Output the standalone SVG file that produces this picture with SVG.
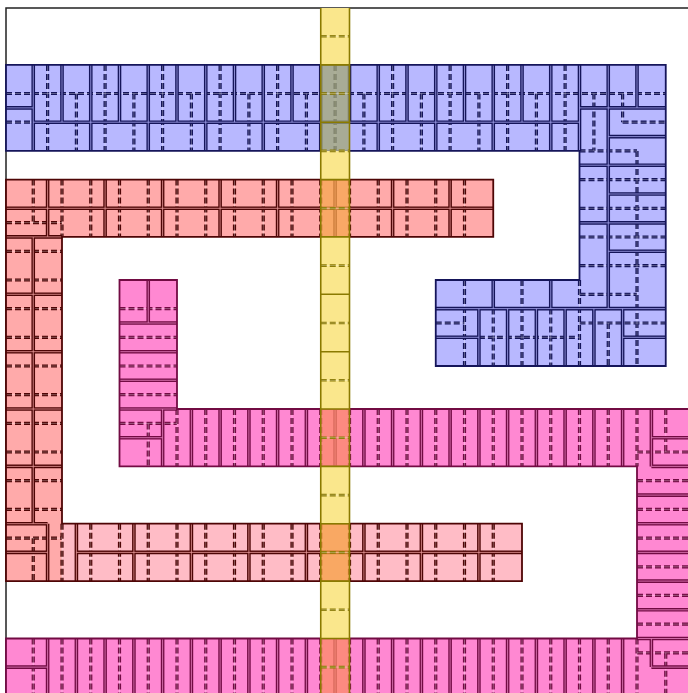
<svg xmlns="http://www.w3.org/2000/svg" width="688" height="693" viewBox="0 0 688 693">
<style>
.s{fill:none;stroke-width:3.6}
.c{fill:none;stroke-width:0.8}
.d{fill:none;stroke-width:3.2;stroke-dasharray:6 3}
.dc{fill:none;stroke:#ffffff;stroke-opacity:.4;stroke-width:.8}
.o{fill:none;stroke-width:1.8}
.B{stroke:#15155a}.Bc{stroke:#a8a8f0}
.R{stroke:#4e0505}.Rc{stroke:#e89a9a}
.P{stroke:#720b43}.Pc{stroke:#e884c0}
.yf{fill:#fae78c}
.yc{fill:none;stroke:#8a7a00;stroke-width:1.6}
.yd{fill:none;stroke:#8a7a00;stroke-width:2.6;stroke-dasharray:6 3}
.ov{opacity:.75}
</style>
<defs>
<path id="bs" d="M62,64.9V122.2M119.5,64.9V122.2M177,64.9V122.2M234.5,64.9V122.2M292,64.9V122.2M349.5,64.9V122.2M407,64.9V122.2M464.5,64.9V122.2M522,64.9V122.2M33.25,64.9V150.9M90.75,64.9V150.9M148.25,64.9V150.9M205.75,64.9V150.9M263.25,64.9V150.9M320.75,64.9V150.9M378.25,64.9V150.9M435.75,64.9V150.9M493.25,64.9V150.9M550.75,64.9V150.9M579.5,64.9V150.9M33.25,122.2H579.5M6,107.9H33.25M608.25,64.9V308.6M637,64.9V107.9M579.5,107.9H665.75M608.25,136.6H665.75M579.5,165.2H665.75M608.25,194H665.75M579.5,222.9H665.75M608.25,251.3H665.75M435.75,308.6H665.75M493.25,280V308.6M550.75,280V308.6M478.9,308.6V366M507.6,308.6V366M536.4,308.6V366M565.1,308.6V366M593.9,308.6V366M622.6,308.6V366M435.75,337.3H478.9M622.6,337.3H665.75"/>
<path id="bd" d="M6,93.5H665.75M47.6,64.9V150.9M105.1,64.9V150.9M162.6,64.9V150.9M220.1,64.9V150.9M277.6,64.9V150.9M335.1,64.9V150.9M392.6,64.9V150.9M450.1,64.9V150.9M507.6,64.9V150.9M565.1,64.9V150.9M76.4,93.5V150.9M133.9,93.5V150.9M191.4,93.5V150.9M248.9,93.5V150.9M306.4,93.5V150.9M363.9,93.5V150.9M421.4,93.5V150.9M478.9,93.5V150.9M536.4,93.5V150.9M593.9,93.5V150.9M622.6,93.5V122.2M6,122.2H33.25M622.6,122.2H665.75M579.5,150.9H637M637,150.9V366M579.5,179.6H665.75M579.5,208.3H665.75M579.5,237H665.75M579.5,265.6H665.75M464.5,280V366M522,280V366M579.5,280V366M493.25,308.6V366M550.75,308.6V366M608.25,323V366M478.9,337.3H579.5M435.75,323H464.5M579.5,323H665.75M579.5,294.3H637"/>
<path id="rs" d="M6,208.3H493.25M47.6,179.6V236.9M105.1,179.6V236.9M162.6,179.6V236.9M220.1,179.6V236.9M277.6,179.6V236.9M335.1,179.6V236.9M392.6,179.6V236.9M450.1,179.6V236.9M6,236.9H62M33.25,236.9V523.7M6,294.3H62M6,351.7H62M6,409H62M6,466.4H62M6,523.7H47.6M47.6,523.7V581.1M6,552.4H47.6M76.4,552.4H522M76.4,523.7V581.1M133.9,523.7V581.1M191.4,523.7V581.1M248.9,523.7V581.1M306.4,523.7V581.1M363.9,523.7V581.1M421.4,523.7V581.1M478.9,523.7V581.1"/>
<path id="rd" d="M33.25,179.6V222.6M6,222.6H62M62,179.6V236.9M90.75,179.6V236.9M119.5,179.6V236.9M148.25,179.6V236.9M177,179.6V236.9M205.75,179.6V236.9M234.5,179.6V236.9M263.25,179.6V236.9M292,179.6V236.9M320.75,179.6V236.9M349.5,179.6V236.9M378.25,179.6V236.9M407,179.6V236.9M435.75,179.6V236.9M464.5,179.6V236.9M6,251.3H62M6,280H62M6,308.6H62M6,337.3H62M6,366H62M6,394.7H62M6,423.4H62M6,452H62M6,480.7H62M6,509.4H62M6,538.1H62M33.25,538.1V581.1M62,523.7V581.1M90.75,523.7V581.1M119.5,523.7V581.1M148.25,523.7V581.1M177,523.7V581.1M205.75,523.7V581.1M234.5,523.7V581.1M263.25,523.7V581.1M292,523.7V581.1M320.75,523.7V581.1M349.5,523.7V581.1M378.25,523.7V581.1M407,523.7V581.1M435.75,523.7V581.1M464.5,523.7V581.1M493.25,523.7V581.1"/>
<path id="ps" d="M148.25,280V323M119.5,323H177M119.5,351.7H177M119.5,380.3H177M119.5,409H177M119.5,437.7H162.6M162.6,409V466.4M191.4,409V466.4M220.1,409V466.4M248.9,409V466.4M277.6,409V466.4M306.4,409V466.4M335.1,409V466.4M363.9,409V466.4M392.6,409V466.4M421.4,409V466.4M450.1,409V466.4M478.9,409V466.4M507.6,409V466.4M536.4,409V466.4M565.1,409V466.4M593.9,409V466.4M622.6,409V466.4M651.4,409V466.4M651.4,437.7H694.5M651.4,466.4H694.5M637,495.1H694.5M637,523.7H694.5M637,552.4H694.5M637,581.1H694.5M637,609.8H694.5M637,638.5H694.5M47.6,638.5V697M76.4,638.5V697M105.1,638.5V697M133.9,638.5V697M162.6,638.5V697M191.4,638.5V697M220.1,638.5V697M248.9,638.5V697M277.6,638.5V697M306.4,638.5V697M335.1,638.5V697M363.9,638.5V697M392.6,638.5V697M421.4,638.5V697M450.1,638.5V697M478.9,638.5V697M507.6,638.5V697M536.4,638.5V697M565.1,638.5V697M593.9,638.5V697M622.6,638.5V697M6,667.1H47.6M651.4,638.5V667.1M651.4,667.1H694.5"/>
<path id="pd" d="M119.5,308.6H177M119.5,337.3H177M119.5,366H177M119.5,394.7H177M119.5,423.4H177M148.25,423.4V466.4M177,409V466.4M205.75,409V466.4M234.5,409V466.4M263.25,409V466.4M292,409V466.4M320.75,409V466.4M349.5,409V466.4M378.25,409V466.4M407,409V466.4M435.75,409V466.4M464.5,409V466.4M493.25,409V466.4M522,409V466.4M550.75,409V466.4M579.5,409V466.4M608.25,409V466.4M637,409V466.4M665.75,409V452M637,452H694.5M637,480.7H694.5M637,509.4H694.5M637,538.1H694.5M637,566.8H694.5M637,595.4H694.5M637,624.1H694.5M33.25,638.5V697M62,638.5V697M90.75,638.5V697M119.5,638.5V697M148.25,638.5V697M177,638.5V697M205.75,638.5V697M234.5,638.5V697M263.25,638.5V697M292,638.5V697M320.75,638.5V697M349.5,638.5V697M378.25,638.5V697M407,638.5V697M435.75,638.5V697M464.5,638.5V697M493.25,638.5V697M522,638.5V697M550.75,638.5V697M579.5,638.5V697M608.25,638.5V697M637,638.5V697M637,652.8H694.5M665.75,652.8V697"/>
</defs>
<rect x="0" y="0" width="688" height="693" fill="#ffffff"/>
<rect x="6" y="8" width="700" height="700" fill="none" stroke="#222222" stroke-width="1.5"/>
<g id="blue">
<path fill="#b8b8ff" d="M6,64.9H665.75V366H435.75V280H579.5V150.9H6Z"/>
<use href="#bd" class="d B"/><use href="#bd" class="dc"/>
<use href="#bs" class="s B"/><use href="#bs" class="c Bc"/>
<path class="o B" d="M6,64.9H665.75V366H435.75V280H579.5V150.9H6Z"/>
</g>
<g id="red">
<path fill="#ffaaaa" d="M6,179.6H493.25V236.9H62V581.1H6Z"/>
<rect x="62" y="523.7" width="460" height="57.4" fill="#ffbcc6"/>
<use href="#rd" class="d R"/><use href="#rd" class="dc"/>
<use href="#rs" class="s R"/><use href="#rs" class="c Rc"/>
<path class="o R" d="M6,179.6H493.25V236.9H62V523.7H522V581.1H6Z"/>
</g>
<g id="pink">
<path fill="#ff88d2" d="M119.5,280H177V409H694.5V697H6V638.5H637V466.4H119.5Z"/>
<use href="#pd" class="d P"/><use href="#pd" class="dc"/>
<use href="#ps" class="s P"/><use href="#ps" class="c Pc"/>
<path class="o P" d="M119.5,280H177V409H694.5V697H6V638.5H637V466.4H119.5Z"/>
</g>
<g id="yellow">
<rect class="yf" x="320.75" y="8" width="28.75" height="56.9"/>
<rect class="yf" x="320.75" y="150.9" width="28.75" height="28.7"/>
<rect class="yf" x="320.75" y="236.9" width="28.75" height="172.1"/>
<rect class="yf" x="320.75" y="466.4" width="28.75" height="57.3"/>
<rect class="yf" x="320.75" y="581.1" width="28.75" height="57.4"/>
<rect class="ov" fill="#a3a773" x="320.75" y="64.9" width="28.75" height="86"/>
<rect class="ov" fill="#f7a74f" x="320.75" y="179.6" width="28.75" height="57.3"/>
<rect class="ov" fill="#fc8b65" x="320.75" y="409" width="28.75" height="57.4"/>
<rect class="ov" fill="#f7a241" x="320.75" y="523.7" width="28.75" height="57.4"/>
<rect class="ov" fill="#fc8b65" x="320.75" y="638.5" width="28.75" height="58.5"/>
<path class="yd" d="M320.75,36.2H349.5M320.75,93.5H349.5M320.75,150.9H349.5M320.75,208.3H349.5M320.75,265.6H349.5M320.75,323H349.5M320.75,380.3H349.5M320.75,437.7H349.5M320.75,495.1H349.5M320.75,552.4H349.5M320.75,609.8H349.5M320.75,667.1H349.5"/>
<path class="dc" d="M320.75,36.2H349.5M320.75,93.5H349.5M320.75,150.9H349.5M320.75,208.3H349.5M320.75,265.6H349.5M320.75,323H349.5M320.75,380.3H349.5M320.75,437.7H349.5M320.75,495.1H349.5M320.75,552.4H349.5M320.75,609.8H349.5M320.75,667.1H349.5"/>
<path class="yc" d="M320.75,8V697M349.5,8V697M320.75,64.9H349.5M320.75,122.2H349.5M320.75,179.6H349.5M320.75,236.9H349.5M320.75,294.3H349.5M320.75,351.7H349.5M320.75,409H349.5M320.75,466.4H349.5M320.75,523.7H349.5M320.75,581.1H349.5M320.75,638.5H349.5"/>
</g>
</svg>
